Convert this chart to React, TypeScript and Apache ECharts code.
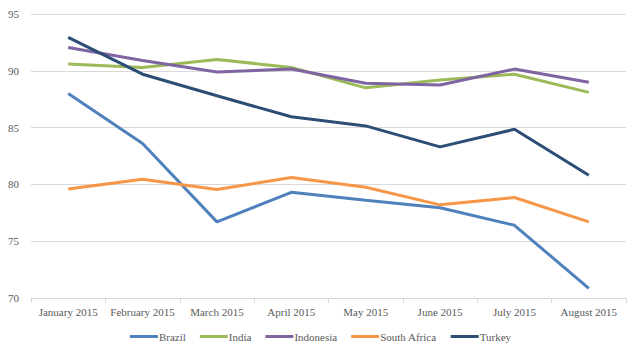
import React, { useEffect, useRef } from "react";
import * as echarts from "echarts";

const categories = ["January 2015", "February 2015", "March 2015", "April 2015", "May 2015", "June 2015", "July 2015", "August 2015"];
const brazil = [88.0, 83.6, 76.7, 79.3, 78.6, 77.95, 76.4, 70.85];
const india = [90.6, 90.3, 91.0, 90.3, 88.5, 89.2, 89.7, 88.1];
const indonesia = [92.05, 90.9, 89.9, 90.15, 88.9, 88.75, 90.15, 89.0];
const southAfrica = [79.6, 80.45, 79.55, 80.6, 79.75, 78.2, 78.85, 76.7];
const turkey = [92.95, 89.7, 87.8, 85.95, 85.15, 83.3, 84.85, 80.8];
const yTicks = { min: 70, max: 95, interval: 5 };

const seriesDefs = [
  { name: "Brazil", data: brazil, color: "#4F81BD" },
  { name: "India", data: india, color: "#9BBB59" },
  { name: "Indonesia", data: indonesia, color: "#8064A2" },
  { name: "South Africa", data: southAfrica, color: "#F79646" },
  { name: "Turkey", data: turkey, color: "#2C4D75" },
];

const font = "'Liberation Serif', 'DejaVu Serif', serif";

export default function App() {
  const ref = useRef<HTMLDivElement>(null);
  useEffect(() => {
    const chart = echarts.init(ref.current!, null, { renderer: "svg" });
    chart.setOption({
      animation: false,
      grid: { left: 31, right: 15, top: 14, bottom: 60 },
      legend: {
        bottom: 11,
        left: "center",
        itemWidth: 28,
        itemHeight: 3,
        itemGap: 14,
        icon: "rect",
        textStyle: { fontFamily: font, fontSize: 11, color: "#595959", padding: [0, 0, 0, -4] },
        data: seriesDefs.map((s) => s.name),
      },
      xAxis: {
        type: "category",
        data: categories,
        boundaryGap: true,
        axisLine: { lineStyle: { color: "#d9d9d9" } },
        axisTick: { show: true, length: 5, lineStyle: { color: "#d9d9d9" } },
        axisLabel: { fontFamily: font, fontSize: 11, color: "#595959", margin: 8, interval: 0 },
      },
      yAxis: {
        type: "value",
        min: yTicks.min,
        max: yTicks.max,
        interval: yTicks.interval,
        axisLine: { show: false },
        axisTick: { show: false },
        splitLine: { lineStyle: { color: "#d9d9d9" } },
        axisLabel: { fontFamily: font, fontSize: 11, color: "#595959", margin: 12 },
      },
      series: seriesDefs.map((s) => ({
        name: s.name,
        type: "line",
        data: s.data,
        symbol: "none",
        color: s.color,
        lineStyle: { width: 3, color: s.color },
      })),
    });
    return () => chart.dispose();
  }, []);
  return <div ref={ref} style={{ width: 641, height: 358, position: "absolute", left: 0, top: 0 }} />;
}
